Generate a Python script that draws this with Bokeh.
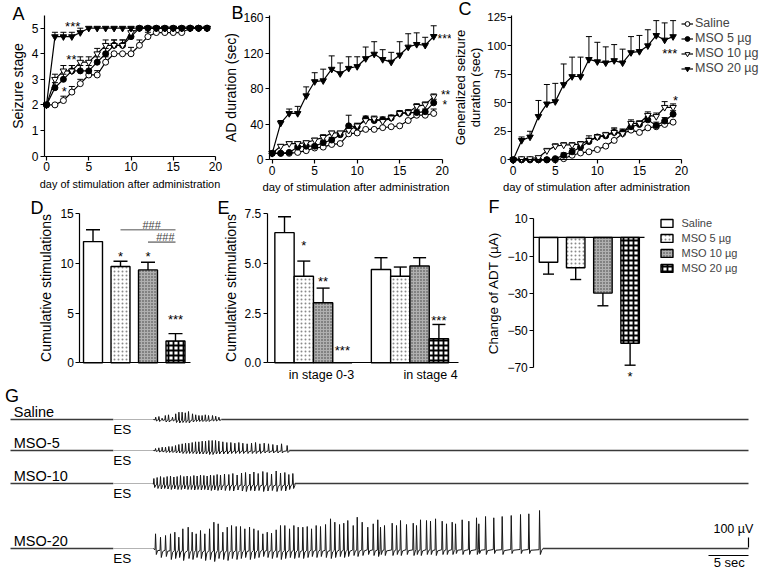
from bokeh.plotting import figure
from bokeh.models import (Range1d, FixedTicker, Label, Legend, LegendItem,
                          ColumnDataSource, NumeralTickFormatter)
from bokeh.layouts import column, row
from bokeh.embed import file_html
from bokeh.resources import INLINE

FONT = "Liberation Sans"

# ------------------------------------------------------------------ data
days = list(range(20))
group_names = ["Saline", "MSO 5 µg", "MSO 10 µg", "MSO 20 µg"]

# A: seizure stage
stage_saline = [2.0, 2.0, 2.17, 2.5, 2.83, 3.17, 3.17, 3.67, 4.0, 4.0, 4.0, 4.33, 4.67, 4.83, 4.83, 4.83, 4.83, 5.0, 5.0, 5.0]
stage_mso5 = [2.0, 2.67, 3.0, 3.33, 3.33, 3.33, 3.67, 4.0, 4.33, 4.33, 4.67, 5.0, 5.0, 5.0, 5.0, 5.0, 5.0, 5.0, 5.0, 5.0]
stage_mso10 = [2.0, 3.0, 3.33, 3.33, 3.67, 3.67, 4.0, 4.33, 4.33, 4.33, 4.83, 5.0, 5.0, 5.0, 5.0, 5.0, 5.0, 5.0, 5.0, 5.0]
stage_mso20 = [2.0, 4.67, 4.67, 4.67, 4.83, 5.0, 5.0, 5.0, 5.0, 5.0, 5.0, 5.0, 5.0, 5.0, 5.0, 5.0, 5.0, 5.0, 5.0, 5.0]
stage_err_saline = [0, 0, 0.17, 0.22, 0.17, 0.17, 0.17, 0.21, 0, 0, 0.25, 0.21, 0.17, 0.17, 0.17, 0.17, 0.17, 0, 0, 0]
stage_err_mso5 = [0, 0.2, 0.2, 0.21, 0.21, 0.21, 0.21, 0.21, 0.21, 0.21, 0.21, 0, 0, 0, 0, 0, 0, 0, 0, 0]
stage_err_mso10 = [0, 0.2, 0.21, 0.21, 0.21, 0.21, 0.21, 0.21, 0.21, 0.21, 0.17, 0, 0, 0, 0, 0, 0, 0, 0, 0]
stage_err_mso20 = [0, 0.17, 0.17, 0.17, 0.17, 0, 0, 0, 0, 0, 0, 0, 0, 0, 0, 0, 0, 0, 0, 0]

# B: AD duration (sec)
ad_saline = [7, 7, 7, 8, 10, 13, 14, 17, 18, 29, 30, 34, 34, 36, 37, 38, 44, 50, 50, 52]
ad_mso5 = [7, 7, 8, 14, 15, 15, 19, 22, 28, 38, 37, 46, 44, 45, 47, 52, 53, 53, 54, 64]
ad_mso10 = [7, 15, 18, 18, 19, 22, 25, 30, 30, 33, 38, 44, 46, 43, 47, 52, 53, 60, 62, 71]
ad_mso20 = [7, 41, 52, 52, 72, 88, 89, 102, 97, 103, 105, 114, 119, 113, 110, 118, 127, 130, 129, 139]
ad_err_saline = [0, 0, 0, 0, 0, 0, 0, 0, 0, 0, 0, 0, 0, 0, 0, 0, 0, 0, 0, 5]
ad_err_mso5 = [0, 0, 0, 2, 2, 2, 3, 3, 3, 12, 3, 3, 3, 3, 3, 3, 3, 3, 3, 4]
ad_err_mso10 = [0, 2, 2, 2, 2, 2, 3, 2, 2, 3, 3, 3, 3, 3, 3, 3, 3, 3, 3, 3]
ad_err_mso20 = [0, 3, 5, 8, 10, 10, 13, 15, 12, 13, 11, 13, 14, 11, 11, 15, 15, 13, 9, 12]

# C: generalized seizure duration (sec)
gs_saline = [0, 0, 0, 0, 0, 0, 1, 4, 6, 7, 9, 12, 17, 23, 26, 24, 28, 29, 31, 33]
gs_mso5 = [0, 0, 0, 0, 0, 1, 4, 7, 11, 16, 20, 21, 24, 24, 29, 31, 35, 30, 34, 40]
gs_mso10 = [0, 1, 1, 2, 8, 12, 13, 13, 14, 17, 20, 22, 24, 23, 32, 32, 39, 38, 46, 46]
gs_mso20 = [0, 17, 20, 38, 49, 51, 66, 73, 73, 88, 86, 85, 87, 85, 94, 95, 100, 109, 105, 108]
gs_err_saline = [0] * 20
gs_err_mso5 = [0, 0, 0, 0, 0, 0, 2, 3, 3, 3, 2, 2, 3, 3, 3, 3, 3, 3, 3, 3]
gs_err_mso10 = [0, 0, 0, 0, 2, 2, 2, 2, 2, 4, 2, 2, 4, 3, 3, 2, 3, 3, 5, 3]
gs_err_mso20 = [0, 3, 5, 14, 17, 16, 18, 17, 17, 20, 17, 14, 14, 12, 14, 14, 14, 13, 15, 14]

# D: cumulative stimulations
cum_stim = [12.2, 9.7, 9.35, 2.2]
cum_stim_err = [1.2, 0.53, 0.77, 0.74]
d_sig_y = [13.4, 12.15]
d_sig_from = [2, 3]
d_sig_to = [4, 4]

# E: cumulative stimulations by stage
stim_stage03 = [6.55, 4.36, 3.02, 0.0]
stim_stage03_err = [0.8, 0.76, 0.74, 0.0]
stim_stage4 = [4.7, 4.36, 4.87, 1.21]
stim_stage4_err = [0.59, 0.46, 0.42, 0.72]
e_categories = ["in stage 0-3", "in stage 4"]

# F: change of ADT (µA)
adt_change = [-13.3, -16.3, -29.9, -56.8]
adt_change_err = [6.4, 6.3, 6.8, 11.8]

# G: EEG traces (time in s, amplitude in µV)
trace_names = ["Saline", "MSO-5", "MSO-10", "MSO-20"]
burst_ends = [26.6, 35.1, 35.8, 66.8]
saline_spike_t = [18.4, 18.8, 19.2, 19.6, 20.0, 20.5, 20.9, 21.3, 21.7, 22.1, 22.5, 23.0, 23.4, 23.8, 24.2, 24.6, 25.0, 25.5, 25.9, 26.3]
saline_spike_pk = [23, 30, 13, 40, 47, 23, 57, 73, 73, 67, 80, 57, 47, 40, 40, 47, 40, 40, 33, 23]
saline_spike_tr = [-15, -20, -10, -25, -25, -15, -30, -35, -30, -30, -35, -25, -20, -20, -20, -20, -20, -15, -15, -10]
mso5_spike_t = [18.38, 18.79, 19.21, 19.63, 20.04, 20.46, 20.88, 21.29, 21.71, 22.13, 22.54, 22.96, 23.38, 23.79, 24.21, 24.63, 25.04, 25.46, 25.88, 26.29,
                26.79, 27.29, 27.79, 28.29, 28.79, 29.29, 29.83, 30.38, 30.88, 31.42, 31.96, 32.5, 33.04, 33.58, 34.13, 34.83]
mso5_spike_pk = [20, 27, 33, 33, 40, 40, 50, 60, 67, 73, 73, 80, 87, 87, 93, 93, 100, 100, 100, 93,
                 87, 80, 80, 73, 80, 73, 67, 73, 80, 67, 73, 67, 60, 53, 67, 50]
mso5_spike_tr = [-10, -15, -15, -20, -20, -20, -25, -25, -30, -30, -30, -30, -35, -35, -35, -35, -40, -40, -35, -35,
                 -35, -35, -30, -30, -30, -30, -30, -30, -30, -30, -25, -25, -25, -25, -25, -20]
mso10_spike_t = [18.17, 18.58, 19.0, 19.42, 19.83, 20.25, 20.67, 21.08, 21.5, 21.92, 22.33, 22.75, 23.17, 23.58, 24.0, 24.42, 24.83, 25.25, 25.67, 26.08,
                 26.5, 27.0, 27.54, 28.04, 28.58, 29.13, 29.63, 30.17, 30.67, 31.21, 31.79, 32.33, 32.88, 33.46, 34.0, 34.54, 35.04, 35.54]
mso10_spike_pk = [50, 60, 70, 60, 70, 75, 65, 70, 80, 70, 75, 70, 80, 75, 85, 80, 75, 85, 80, 90,
                  85, 95, 90, 100, 85, 105, 110, 95, 115, 100, 120, 110, 95, 125, 105, 110, 90, 100]
mso10_spike_tr = [-40, -50, -55, -50, -55, -60, -55, -60, -60, -55, -60, -60, -65, -60, -65, -60, -65, -70, -65, -70,
                  -65, -70, -70, -75, -65, -75, -80, -70, -75, -70, -80, -75, -70, -80, -70, -75, -60, -50]
mso20_spike_t = [18.38, 19.0, 19.63, 20.25, 20.79, 21.29, 21.79, 22.46, 22.96, 23.46, 24.0, 24.54, 25.13, 25.67, 26.21, 26.79, 27.34, 27.88, 28.46, 29.0,
                 29.54, 30.13, 30.67, 31.21, 31.79, 32.34, 32.88, 33.46, 34.0, 34.54, 35.13, 35.67, 36.21, 36.79, 37.34, 37.88, 38.46, 39.0, 39.63, 40.25,
                 40.79, 41.38, 41.91, 42.41, 43.09, 43.59, 44.21, 44.91, 45.59, 46.16, 46.5, 47.0, 47.96, 48.5, 49.0, 49.75, 50.59, 51.0, 51.5, 52.25,
                 52.75, 53.38, 54.21, 54.75, 55.46, 55.88, 56.71, 57.54, 58.5, 58.79, 59.63, 60.66, 61.71, 62.84, 64.0, 65.04, 66.38]
mso20_spike_pk = [147, 113, 130, 147, 163, 113, 197, 213, 163, 147, 180, 147, 197, 263, 247, 163, 213, 230, 220, 220,
                  197, 213, 197, 180, 147, 163, 153, 187, 230, 230, 197, 230, 213, 213, 220, 197, 230, 220, 240, 297,
                  263, 240, 253, 280, 230, 313, 263, 213, 247, 287, 213, 230, 253, 230, 280, 240, 253, 230, 287, 280,
                  273, 297, 273, 247, 263, 247, 287, 273, 307, 247, 320, 307, 320, 330, 340, 347, 380]
mso20_spike_tr = [-60, -90, -80, -110, -100, -90, -120, -100, -110, -90, -100, -120, -110, -130, -100, -110, -120, -100, -110, -100,
                  -90, -110, -100, -90, -80, -90, -100, -90, -110, -100, -90, -100, -90, -100, -90, -80, -90, -80, -90, -100,
                  -90, -80, -90, -80, -70, -80, -70, -60, -70, -80, -60, -70, -70, -60, -70, -60, -70, -60, -70, -60,
                  -60, -70, -60, -60, -60, -50, -60, -60, -60, -50, -60, -50, -60, -50, -50, -50, -60]
scale_bar_uv = 100
scale_bar_sec = 5


# ------------------------------------------------------------------ helpers
def panel(ox, oy, W, H, xa, ya):
    """Figure whose frame fills the whole canvas; ranges derived from two
    page-pixel anchors per axis (value, page position)."""
    (xv1, xp1), (xv2, xp2) = xa
    sx = (xv2 - xv1) / (xp2 - xp1)
    x0 = xv1 + (ox - xp1) * sx
    x1 = xv1 + (ox + W - xp1) * sx
    (yv1, yp1), (yv2, yp2) = ya
    sy = (yv2 - yv1) / (yp2 - yp1)
    y_top = yv1 + (oy - yp1) * sy
    y_bot = yv1 + (oy + H - yp1) * sy
    g = dict(ox=ox, oy=oy, W=W, H=H, xr=(x0, x1), yr=(y_bot, y_top))
    p = figure(width=W, height=H, x_range=Range1d(x0, x1), y_range=Range1d(y_bot, y_top),
               output_backend="svg", toolbar_location=None, min_border=0)
    p.outline_line_color = None
    p.grid.visible = False
    for ax in p.axis:
        ax.axis_line_color = "black"
        ax.axis_line_width = 1.2
        ax.major_tick_line_color = "black"
        ax.major_tick_line_width = 1.2
        ax.major_tick_out = 4
        ax.major_tick_in = 0
        ax.minor_tick_line_color = None
        ax.major_label_text_font = FONT
        ax.major_label_text_font_size = "12px"
        ax.major_label_text_color = "black"
        ax.major_label_standoff = 2
        ax.axis_label_text_font = FONT
        ax.axis_label_text_font_style = "normal"
        ax.axis_label_text_font_size = "14px"
        ax.axis_label_text_color = "black"
        ax.axis_label_standoff = 3
    return p, g


def at(g, px, py):
    x0, x1 = g["xr"]
    yb, yt = g["yr"]
    return (x0 + (px - g["ox"]) / g["W"] * (x1 - x0),
            yt - (py - g["oy"]) / g["H"] * (yt - yb))


def place_axes(p, g, yaxis_px, x_bounds_right_px, y_bounds_top_px, y_bottom=0):
    xl, _ = at(g, yaxis_px, 0)
    xr_, _ = at(g, x_bounds_right_px, 0)
    _, yt = at(g, 0, y_bounds_top_px)
    p.yaxis.fixed_location = xl
    p.yaxis.bounds = (y_bottom, yt)
    p.xaxis.fixed_location = y_bottom
    p.xaxis.bounds = (xl, xr_)


def text_at(p, g, text, px, py, size, align="left", color="black"):
    x, y = at(g, px, py)
    p.add_layout(Label(x=x, y=y, text=text, text_font=FONT, text_font_size=size,
                       text_align=align, text_baseline="middle", text_color=color))


def letter(p, g, text, px, py_center):
    text_at(p, g, text, px, py_center, "18px")


def star(p, x, y, text, size="13px"):
    # (x, y) is the visual centre of the asterisks
    p.add_layout(Label(x=x, y=y, text=text, text_font=FONT, text_font_size=size,
                       text_align="center", text_baseline="middle", y_offset=-3,
                       text_color="black"))


def legend_at(p, g, items, px, py_top, **kw):
    n = len(items)
    h = kw.get("label_height", 15) * n
    return Legend(items=items, location=(px - g["ox"], g["oy"] + g["H"] - (py_top + h)),
                  label_text_font=FONT, spacing=0, padding=0, margin=0,
                  border_line_color=None, background_fill_alpha=0, **kw)


MARKERS = [("circle", "white", 6.0), ("circle", "black", 6.0),
           ("inverted_triangle", "white", 6.5), ("inverted_triangle", "black", 6.5)]


def line_panel(p, series, errors):
    for ys, es in zip(series, errors):
        ex = [d for d, e in zip(days, es) if e > 0]
        y0 = [v for v, e in zip(ys, es) if e > 0]
        y1 = [v + e for v, e in zip(ys, es) if e > 0]
        p.segment(x0=ex, y0=y0, x1=ex, y1=y1, line_color="black", line_width=1)
        p.scatter(x=ex, y=y1, marker="dash", size=6, line_color="black", line_width=1)
    rends = []
    for ys, (m, fc, sz) in zip(series, MARKERS):
        lr = p.line(x=days, y=ys, line_color="black", line_width=1.2)
        sr = p.scatter(x=days, y=ys, marker=m, size=sz, fill_color=fc,
                       line_color="black", line_width=1)
        rends.append([lr, sr])
    return rends


BAR_FILL = ["white", "white", "#b0b0b0", "white"]
BAR_HATCH = [" ", "dot", "dot", "cross"]
BAR_HCOLOR = ["black", "#8a8a8a", "#3a3a3a", "black"]
BAR_HSCALE = [6, 4, 3, 5]
BAR_HWEIGHT = [1, 1, 1, 1.8]


def bar_panel(p, xs, vals, errs, width, cap):
    idx = [i % 4 for i in range(len(xs))]
    src = ColumnDataSource(dict(
        x=xs, top=[max(v, 0) for v in vals], bottom=[min(v, 0) for v in vals],
        fill=[BAR_FILL[i] for i in idx], hatch=[BAR_HATCH[i] for i in idx],
        hcolor=[BAR_HCOLOR[i] for i in idx], hscale=[BAR_HSCALE[i] for i in idx],
        hweight=[BAR_HWEIGHT[i] for i in idx]))
    r = p.vbar(x="x", top="top", bottom="bottom", width=width, source=src,
               fill_color="fill", line_color="black", line_width=1.4,
               hatch_pattern="hatch", hatch_color="hcolor",
               hatch_scale="hscale", hatch_weight="hweight")
    ex = [x for x, e in zip(xs, errs) if e > 0]
    e0 = [v for v, e in zip(vals, errs) if e > 0]
    e1 = [(v - e if v < 0 else v + e) for v, e in zip(vals, errs) if e > 0]
    p.segment(x0=ex, y0=e0, x1=ex, y1=e1, line_color="black", line_width=1.4)
    p.scatter(x=ex, y=e1, marker="dash", size=cap, line_color="black", line_width=1.4)
    return r


DAY_TICKS = [0, 5, 10, 15, 20]
DAY_LABEL = "day of stimulation after administration"
ROW2_TOP, ROW2_H = 197, 187
G_TOP, G_H = ROW2_TOP + ROW2_H, 570 - (ROW2_TOP + ROW2_H)

# ------------------------------------------------------------------ Panel A
pA, gA = panel(0, 0, 222, 197, ((0, 46), (20, 215)), ((0, 155.5), (5, 27.7)))
line_panel(pA, [stage_saline, stage_mso5, stage_mso10, stage_mso20],
           [stage_err_saline, stage_err_mso5, stage_err_mso10, stage_err_mso20])
place_axes(pA, gA, 44, 215, 15)
pA.xaxis.ticker = FixedTicker(ticks=DAY_TICKS)
pA.yaxis.ticker = FixedTicker(ticks=[0, 1, 2, 3, 4, 5])
pA.xaxis.axis_label = DAY_LABEL
pA.xaxis.axis_label_text_font_size = "10.9px"
pA.yaxis.axis_label = "Seizure stage"
star(pA, 3.1, 5.2, "***")
star(pA, 2.95, 3.88, "**")
star(pA, 2.1, 2.65, "*")
letter(pA, gA, "A", 12, 13.5)

# ------------------------------------------------------------------ Panel B
pB, gB = panel(222, 0, 229, 197, ((0, 271.7), (20, 441.7)), ((0, 159), (160, 17.3)))
line_panel(pB, [ad_saline, ad_mso5, ad_mso10, ad_mso20],
           [ad_err_saline, ad_err_mso5, ad_err_mso10, ad_err_mso20])
place_axes(pB, gB, 269, 441.7, 15)
pB.xaxis.ticker = FixedTicker(ticks=DAY_TICKS)
pB.yaxis.ticker = FixedTicker(ticks=[0, 40, 80, 120, 160])
pB.yaxis.axis_label_standoff = 1
pB.xaxis.axis_label = DAY_LABEL
pB.xaxis.axis_label_text_font_size = "11.3px"
pB.yaxis.axis_label = "AD duration (sec)"
star(pB, 20.28, 140, "***", "12px")
star(pB, 20.4, 76, "**", "12px")
star(pB, 20.3, 64.5, "*", "12px")
letter(pB, gB, "B", 231, 12.5)

# ------------------------------------------------------------------ Panel C
pC, gC = panel(451, 0, 309, 197, ((0, 512.7), (20, 681)), ((0, 159.3), (125, 16.7)))
rC = line_panel(pC, [gs_saline, gs_mso5, gs_mso10, gs_mso20],
                [gs_err_saline, gs_err_mso5, gs_err_mso10, gs_err_mso20])
place_axes(pC, gC, 511, 681, 15)
pC.xaxis.ticker = FixedTicker(ticks=DAY_TICKS)
pC.yaxis.ticker = FixedTicker(ticks=[0, 25, 50, 75, 100, 125])
pC.yaxis.major_label_text_font_size = "11.5px"
pC.yaxis.major_label_standoff = 1
pC.yaxis.axis_label_standoff = 1
pC.xaxis.axis_label = DAY_LABEL
pC.xaxis.axis_label_text_font_size = "11.3px"
pC.yaxis.axis_label = "Generalized seizure\nduration (sec)"
pC.yaxis.axis_label_text_font_size = "13px"
pC.yaxis.axis_label_text_line_height = 1.0
star(pC, 18.6, 95.8, "***")
star(pC, 19.3, 54.6, "*")
letter(pC, gC, "C", 458, 8.5)
legC = legend_at(pC, gC, [LegendItem(label=n, renderers=r) for n, r in zip(group_names, rC)],
                 681, 15.5, label_text_font_size="12.5px", glyph_width=12, glyph_height=15,
                 label_height=15, label_standoff=2)
pC.add_layout(legC)

# ------------------------------------------------------------------ Panel D
pD, gD = panel(0, ROW2_TOP, 215, ROW2_H, ((1, 92.5), (4, 175)), ((0, 362.3), (15, 213.3)))
bar_panel(pD, [1, 2, 3, 4], cum_stim, cum_stim_err, 0.69, 14)
place_axes(pD, gD, 79.3, 190, 213.3)
pD.xaxis.ticker = FixedTicker(ticks=[])
pD.xaxis.major_tick_out = 0
pD.yaxis.ticker = FixedTicker(ticks=[0, 5, 10, 15])
pD.yaxis.axis_label = "Cumulative stimulations"
pD.segment(x0=d_sig_from, y0=d_sig_y, x1=d_sig_to, y1=d_sig_y, line_color="#8c8c8c", line_width=1.6)
for x0, x1, y in zip(d_sig_from, d_sig_to, d_sig_y):
    pD.add_layout(Label(x=(x0 + x1) / 2 + 0.13, y=y, text="###", text_font=FONT,
                        text_font_size="11px", text_align="center",
                        text_baseline="middle", y_offset=5, text_color="#444444"))
star(pD, 2, 11.0, "*")
star(pD, 3, 11.0, "*")
star(pD, 4, 4.7, "***")
letter(pD, gD, "D", 30, 207.5)

# ------------------------------------------------------------------ Panel E
pE, gE = panel(215, ROW2_TOP, 270, ROW2_H, ((0, 284), (8, 438.4)), ((0, 362.3), (7.5, 213.3)))
bar_panel(pE, [0, 1, 2, 3, 5, 6, 7, 8], stim_stage03 + stim_stage4,
          stim_stage03_err + stim_stage4_err, 1.0, 13)
place_axes(pE, gE, 266.7, 458, 213.3)
e_tick_pos = [at(gE, 321, 0)[0], at(gE, 430, 0)[0]]
pE.xaxis.ticker = FixedTicker(ticks=e_tick_pos)
pE.xaxis.major_label_overrides = {e_tick_pos[0]: e_categories[0], e_tick_pos[1]: e_categories[1]}
pE.xaxis.major_tick_out = 0
pE.xaxis.major_label_standoff = 5
pE.xaxis.major_label_text_font_size = "12.5px"
pE.yaxis.ticker = FixedTicker(ticks=[0, 2.5, 5, 7.5])
pE.yaxis.formatter = NumeralTickFormatter(format="0.0")
pE.yaxis.axis_label = "Cumulative stimulations"
star(pE, 1, 6.07, "*")
star(pE, 2, 4.24, "**")
star(pE, 3, 0.78, "***")
star(pE, 8, 2.28, "***")
letter(pE, gE, "E", 217, 207.5)

# ------------------------------------------------------------------ Panel F
pF, gF = panel(485, ROW2_TOP, 275, ROW2_H, ((1, 548), (4, 629.6)), ((10, 218.3), (-70, 367.3)))
rF = bar_panel(pF, [1, 2, 3, 4], adt_change, adt_change_err, 0.68, 11)
yl_F = at(gF, 533.3, 0)[0]
pF.yaxis.fixed_location = yl_F
pF.yaxis.bounds = (-70, 10)
pF.xaxis.visible = False
pF.xaxis.fixed_location = 0
pF.segment(x0=[yl_F], y0=[0], x1=[at(gF, 644, 0)[0]], y1=[0], line_color="black", line_width=1.3)
pF.yaxis.ticker = FixedTicker(ticks=[10, -10, -30, -50, -70])
pF.yaxis.axis_label = "Change of ADT (µA)"
pF.yaxis.axis_label_text_font_size = "13.5px"
star(pF, 4, -73, "*")
letter(pF, gF, "F", 488, 206)
legF = legend_at(pF, gF, [LegendItem(label=n, renderers=[rF], index=i) for i, n in enumerate(group_names)],
                 658.5, 215.8, label_text_font_size="11px", glyph_width=15, glyph_height=10,
                 label_height=15, label_standoff=8)
pF.add_layout(legF)

# ------------------------------------------------------------------ Panel G
REC_START, ES_TIME, BURST_START, REC_END = 0.25, 13.1, 18.1, 92.5
trace_offsets = [-370, -680, -1010, -1660]
pG, gG = panel(0, G_TOP, 760, G_H, ((0, 8), (92.5, 748)), ((0, 382), (-1880, 570)))
pG.xaxis.visible = False
pG.yaxis.visible = False
pG.xaxis.fixed_location = 0
pG.yaxis.fixed_location = 0


def burst_path(times, peaks, troughs, start, end):
    xs, ys = [start], [0]
    for t, pk, tr in zip(times, peaks, troughs):
        xs += [t - 0.06, t, t + 0.1, t + 0.26]
        ys += [0.2 * tr, pk, tr, 0.35 * tr]
    xs.append(end)
    ys.append(0)
    return xs, ys


spikes = [(saline_spike_t, saline_spike_pk, saline_spike_tr),
          (mso5_spike_t, mso5_spike_pk, mso5_spike_tr),
          (mso10_spike_t, mso10_spike_pk, mso10_spike_tr),
          (mso20_spike_t, mso20_spike_pk, mso20_spike_tr)]

for name, off, (st, spk, stro), t_end in zip(trace_names, trace_offsets, spikes, burst_ends):
    pG.line([REC_START, ES_TIME], [off, off], line_color="#3a3a3a", line_width=1.5)
    pG.line([ES_TIME, BURST_START], [off, off], line_color="#a0a0a0", line_width=0.8)
    xs, ys = burst_path(st, spk, stro, BURST_START, t_end)
    pG.line(xs, [off + y for y in ys], line_color="#151515", line_width=1.0)
    pG.line([t_end, REC_END], [off, off], line_color="#3a3a3a", line_width=1.5)
    pG.add_layout(Label(x=0.66, y=off + 75, text=name, text_font=FONT,
                        text_font_size="14.5px", text_baseline="middle",
                        text_align="left", text_color="black"))
    pG.add_layout(Label(x=ES_TIME, y=off - 100, text="ES", text_font=FONT,
                        text_font_size="13.5px", text_baseline="middle",
                        text_align="left", text_color="black"))

sb_bottom = trace_offsets[3] + 10
pG.segment(x0=[REC_END], y0=[sb_bottom], x1=[REC_END], y1=[sb_bottom + scale_bar_uv],
           line_color="black", line_width=1.2)
pG.segment(x0=[REC_END - scale_bar_sec], y0=[-1730], x1=[REC_END], y1=[-1730],
           line_color="black", line_width=1.2)
pG.add_layout(Label(x=90.1, y=-1800, text="%d sec" % scale_bar_sec,
                    text_font=FONT, text_font_size="13px", text_align="center",
                    text_baseline="middle", text_color="black"))
pG.add_layout(Label(x=93.1, y=-1465, text="%d µV" % scale_bar_uv,
                    text_font=FONT, text_font_size="12.5px", text_align="right",
                    text_baseline="middle", text_color="black"))
pG.add_layout(Label(x=-0.45, y=-132, text="G", text_font=FONT, text_font_size="18px",
                    text_align="left", text_baseline="middle", text_color="black"))

layout = column(row(pA, pB, pC), row(pD, pE, pF), pG)
open("out.html", "w").write(file_html(layout, INLINE))
